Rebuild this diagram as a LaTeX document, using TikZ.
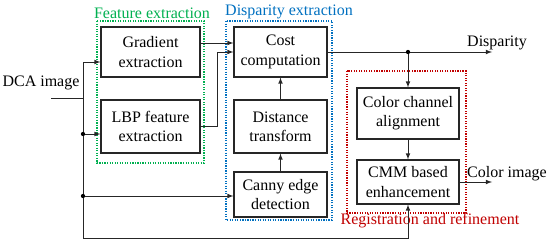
\documentclass[tikz,border=0pt]{standalone}
\usepackage{fontspec}
\setmainfont{Liberation Serif}
\usepackage{xcolor}
\usepackage{tikz}
\usetikzlibrary{arrows,positioning,calc}

\definecolor{featgreen}{RGB}{0,176,80}
\definecolor{dispblue}{RGB}{0,112,192}
\definecolor{regred}{RGB}{192,0,0}

\begin{document}
\begin{tikzpicture}[x=0.75pt, y=-0.75pt, >=latex,
    every node/.style={font=\fontsize{12pt}{14.5pt}\selectfont},
    blk/.style 2 args={draw=black!85, line width=0.8pt, align=center, inner sep=1pt,
        minimum width=#1*0.75pt, minimum height=#2*0.75pt},
    arr/.style={->, line width=0.6pt, black!85},
    wire/.style={line width=0.6pt, black!85},
    frame/.style={densely dotted, line width=0.9pt},
    dot/.style={circle, fill=black, inner sep=0pt, minimum size=3.2pt}]
    \useasboundingbox (0,0) rectangle (550,246);

    \node[blk={99}{50}] (grad) at (150.5,52) {Gradient\\extraction};
    \node[blk={99}{53}] (lbp) at (150.5,126.5) {LBP feature\\extraction};
    \node[blk={93}{50}] (cost) at (280.5,52) {Cost\\computation};
    \node[blk={93}{53}] (dist) at (280.5,126.5) {Distance\\transform};
    \node[blk={93}{45}] (canny) at (280.5,194.5) {Canny edge\\detection};
    \node[blk={102}{51}] (align) at (408,113.5) {Color channel\\alignment};
    \node[blk={102}{44}] (cmm) at (408,182) {CMM based\\enhancement};

    \draw[frame, featgreen] (97,21) rectangle (204,163);
    \draw[frame, dispblue] (226,21) rectangle (332,220);
    \draw[frame, regred] (347,71) rectangle (466,213);

    \node[text=featgreen] (featlbl) at (152,13) {Feature extraction};
    \node[text=dispblue] (displbl) at (289,12) {Disparity extraction};
    \node[text=regred] (reglbl) at (430,221) {Registration and refinement};

    \node (dca) at (41,83) {DCA image};
    \node (disp) at (497,43) {Disparity};
    \node (colimg) at (507,174) {Color image};

    \coordinate (in) at (51,98);
    \coordinate (sp) at (83,98);
    \coordinate (j1) at (83,62);
    \coordinate (j2) at (83,134);
    \coordinate (j3) at (83,196);
    \coordinate (j4) at (83,238);
    \coordinate (dout) at (492,52);
    \coordinate (cout) at (492,182);
    \coordinate (gout) at ([yshift=6.75pt]grad.east);

    \draw[wire] (in) -- (sp);
    \draw[arr] (j4) -- (j1) -- (j1 -| grad.west);
    \draw[arr] (j2) -- (j2 -| lbp.west);
    \draw[arr] (j3) -- (j3 -| canny.west);
    \draw[arr] (j4) -- (j4 -| cmm.south) -- (cmm.south);
    \node[dot] at (j2) {};
    \node[dot] at (j3) {};

    \draw[arr] (gout) -- (gout -| cost.west);
    \draw[arr] (lbp.east) -- ++(12.75pt,0) |- (cost.west);
    \draw[arr] (canny.north) -- (dist.south);
    \draw[arr] (dist.north) -- (cost.south);

    \draw[arr] (cost.east) -- (dout);
    \draw[arr] (cost.east -| align.north) -- (align.north);
    \node[dot] at (cost.east -| align.north) {};
    \draw[arr] (align.south) -- (cmm.north);
    \draw[arr] (cmm.east) -- (cout);
\end{tikzpicture}
\end{document}
